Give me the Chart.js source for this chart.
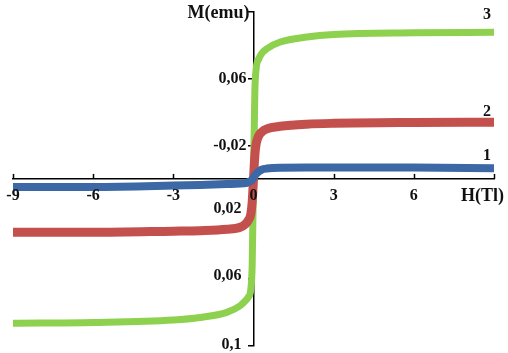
<!DOCTYPE html>
<html>
<head>
<meta charset="utf-8">
<script src="https://cdn.jsdelivr.net/npm/chart.js@4"></script>
<style>
  html, body { margin: 0; padding: 0; background: #fff; }
  #wrap { width: 508px; height: 353px; }
</style>
</head>
<body>
<div id="wrap"><canvas id="chart"></canvas></div>
<script>
// field values (T)
const fieldH = [-9, -6, -3, -2, -1, -0.5, -0.3, -0.2, -0.1, -0.05, 0, 0.05, 0.1, 0.2, 0.3, 0.5, 1, 2, 3, 6, 9];

// magnetization curves (emu)
const curve1 = [-0.0048, -0.0048, -0.004, -0.0036, -0.0031, -0.0028, -0.0025, -0.002, -0.0012, -0.0005, 0.0008, 0.002, 0.003, 0.0045, 0.0055, 0.0062, 0.0067, 0.0068, 0.0068, 0.0068, 0.0064];
const curve2 = [-0.032, -0.032, -0.0313, -0.031, -0.0302, -0.029, -0.027, -0.025, -0.021, -0.014, 0, 0.014, 0.021, 0.026, 0.028, 0.03, 0.0315, 0.0328, 0.0333, 0.0338, 0.034];
const curve3 = [-0.0865, -0.086, -0.0845, -0.083, -0.08, -0.076, -0.073, -0.071, -0.066, -0.052, 0, 0.052, 0.066, 0.072, 0.075, 0.078, 0.082, 0.085, 0.0865, 0.0875, 0.0878];

// tick labels as printed on the original axes
const xTickValues = [-9, -6, -3, 0, 3, 6, 9];
const xTickText = ['-9', '-6', '-3', '0', '3', '6', ''];
const yTickValues = [0.1, 0.06, 0.02, -0.02, -0.06, -0.1];
const yTickText = ['', '0,06', '-0,02', '0,02', '0,06', '0,1'];

const serif = "'Liberation Serif', 'DejaVu Serif', serif";

const toPoints = vals => fieldH.map((h, i) => ({ x: h, y: vals[i] }));

// upward x ticks under the curves; labels, titles and curve numbers on top
const extras = {
    id: 'extras',
    beforeDatasetsDraw(chart) {
        const ctx = chart.ctx;
        const xs = chart.scales.x;
        const y0 = chart.scales.y.getPixelForValue(0);
        ctx.save();
        ctx.strokeStyle = '#000';
        ctx.lineWidth = 1.5;
        xTickValues.forEach(v => {
            const px = Math.round(xs.getPixelForValue(v)) + 0.5;
            ctx.beginPath();
            ctx.moveTo(px, y0);
            ctx.lineTo(px, y0 - 5);
            ctx.stroke();
        });
        ctx.restore();
    },
    afterDraw(chart) {
        const ctx = chart.ctx;
        const xs = chart.scales.x;
        const ys = chart.scales.y;
        const x0 = xs.getPixelForValue(0);
        const y0 = ys.getPixelForValue(0);
        ctx.save();
        ctx.fillStyle = '#111';
        ctx.textBaseline = 'middle';

        ctx.font = 'bold 16px ' + serif;
        ctx.textAlign = 'center';
        xTickValues.forEach((v, i) => {
            ctx.fillText(xTickText[i], xs.getPixelForValue(v), y0 + 17);
        });
        ctx.textAlign = 'right';
        yTickValues.forEach((v, i) => {
            const right = v > 0 ? x0 - 7 : x0 - 12;
            const dy = v > 0 ? 0 : (v < -0.09 ? -1 : -3);
            ctx.fillText(yTickText[i], right, ys.getPixelForValue(v) + dy);
        });

        ctx.font = 'bold 18px ' + serif;
        ctx.textAlign = 'right';
        ctx.fillText('M(emu)', x0 - 4, 13);
        ctx.textAlign = 'left';
        ctx.fillText('H(Tl)', 461, y0 + 17);
        ctx.font = 'bold 16px ' + serif;
        ctx.textAlign = 'center';
        ctx.fillText('3', 487, 15);
        ctx.fillText('2', 487, 112);
        ctx.fillText('1', 487, 156);
        ctx.restore();
    }
};

new Chart(document.getElementById('chart'), {
    type: 'line',
    data: {
        datasets: [
            { label: '1', data: toPoints(curve1), borderColor: '#3d68a6', borderWidth: 8 },
            { label: '2', data: toPoints(curve2), borderColor: '#c3504d', borderWidth: 9 },
            { label: '3', data: toPoints(curve3), borderColor: '#8dd14f', borderWidth: 7 }
        ]
    },
    options: {
        responsive: true,
        maintainAspectRatio: false,
        animation: false,
        layout: { padding: { left: 13, right: 14, top: 12, bottom: 6 } },
        elements: {
            point: { radius: 0 },
            line: { cubicInterpolationMode: 'monotone', borderCapStyle: 'round', borderJoinStyle: 'round' }
        },
        plugins: {
            legend: { display: false },
            tooltip: { enabled: false }
        },
        scales: {
            x: {
                type: 'linear',
                min: -9,
                max: 9,
                position: { y: 0 },
                afterBuildTicks: scale => { scale.ticks = xTickValues.map(v => ({ value: v })); },
                grid: { display: false, drawTicks: false },
                border: { display: true, color: '#000', width: 1.5 },
                ticks: { padding: 0, maxRotation: 0, callback: () => '' }
            },
            y: {
                type: 'linear',
                min: -0.1,
                max: 0.1,
                position: { x: 0 },
                afterBuildTicks: scale => { scale.ticks = yTickValues.map(v => ({ value: v })); },
                grid: { display: true, drawOnChartArea: false, drawTicks: true, tickLength: 5, color: '#000', lineWidth: 1.5 },
                border: { display: true, color: '#000', width: 1.5 },
                ticks: { padding: 0, callback: () => '' }
            }
        }
    },
    plugins: [extras]
});
</script>
</body>
</html>
